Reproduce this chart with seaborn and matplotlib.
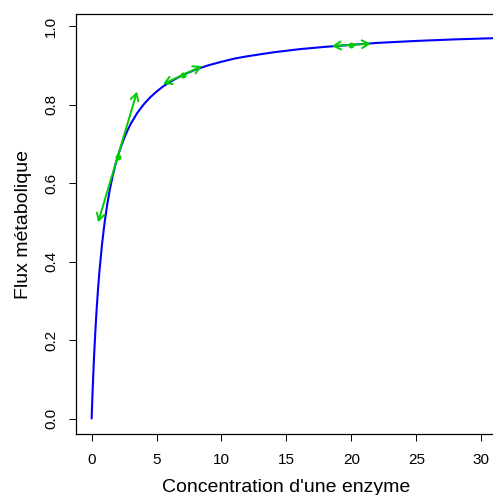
import numpy as np
import matplotlib
matplotlib.use("Agg")
import matplotlib.pyplot as plt
import seaborn as sns

# Curve (flux vs enzyme concentration)
conc = [0, 0.05, 0.1, 0.15, 0.2, 0.3, 0.4, 0.5, 0.6, 0.8, 1, 1.2, 1.4, 1.6,
        1.8, 2, 2.25, 2.5, 2.75, 3, 3.5, 4, 4.5, 5, 5.5, 6, 7, 8, 9, 10, 11,
        12, 14, 16, 18, 20, 22, 25, 28, 32]
flux = [0, 0.048, 0.091, 0.130, 0.167, 0.231, 0.286, 0.333, 0.375, 0.444,
        0.5, 0.545, 0.583, 0.615, 0.643, 0.667, 0.692, 0.714, 0.733, 0.75,
        0.778, 0.8, 0.818, 0.833, 0.846, 0.857, 0.875, 0.889, 0.9, 0.909,
        0.917, 0.923, 0.933, 0.941, 0.947, 0.952, 0.957, 0.962, 0.966, 0.970]

# Tangent arrows: centre point and two end points
tan_x = [2, 7, 20]
tan_y = [0.667, 0.875, 0.952]
tan_x0 = [0.5, 5.5, 18.5]
tan_y0 = [0.500, 0.852, 0.949]
tan_x1 = [3.5, 8.5, 21.5]
tan_y1 = [0.833, 0.898, 0.955]

xticks = [0, 5, 10, 15, 20, 25, 30]
yticks = [0.0, 0.2, 0.4, 0.6, 0.8, 1.0]

sns.set_style("white")
plt.rcParams['font.family'] = ['Liberation Sans', 'DejaVu Sans']
plt.rcParams['text.color'] = 'black'
plt.rcParams['axes.labelcolor'] = 'black'

fig = plt.figure(figsize=(4.93, 4.95), dpi=100)
ax = fig.add_axes([0.1548, 0.1232, 1.0042 - 0.1548, 0.8485])

sns.lineplot(x=conc, y=flux, ax=ax, color='#0000FF', linewidth=1.5, sort=False)

green = '#00CD00'
for cx, cy, x0, y0, x1, y1 in zip(tan_x, tan_y, tan_x0, tan_y0, tan_x1, tan_y1):
    ax.annotate('', xy=(x1, y1), xytext=(x0, y0),
                arrowprops=dict(arrowstyle='<->,head_length=0.5,head_width=0.28',
                                color=green, lw=1.4, shrinkA=0, shrinkB=0,
                                mutation_scale=10))
sns.scatterplot(x=tan_x, y=tan_y, ax=ax, color=green, s=14, edgecolor=green,
                linewidth=0.5, zorder=5)

ax.set_xlim(-1.18, 31.07)
ax.set_ylim(-0.0395, 1.0306)
ax.set_xticks(xticks)
ax.set_xticklabels([str(v) for v in xticks])
ax.set_yticks(yticks)
ax.set_yticklabels([f"{v:.1f}" for v in yticks], rotation=90, va='center')

for side in ['left', 'bottom', 'top']:
    ax.spines[side].set_color('black')
    ax.spines[side].set_linewidth(0.9)
ax.spines['right'].set_visible(False)

ax.tick_params(axis='both', direction='out', length=5, width=0.7,
               colors='black', labelsize=11, pad=8.5, left=True, bottom=True)
ax.tick_params(axis='y', pad=8)

ax.set_xlabel("Concentration d'une enzyme", fontsize=14, labelpad=9)
ax.set_ylabel("Flux métabolique", fontsize=14, labelpad=9)

fig.savefig("out.png", dpi=100)
